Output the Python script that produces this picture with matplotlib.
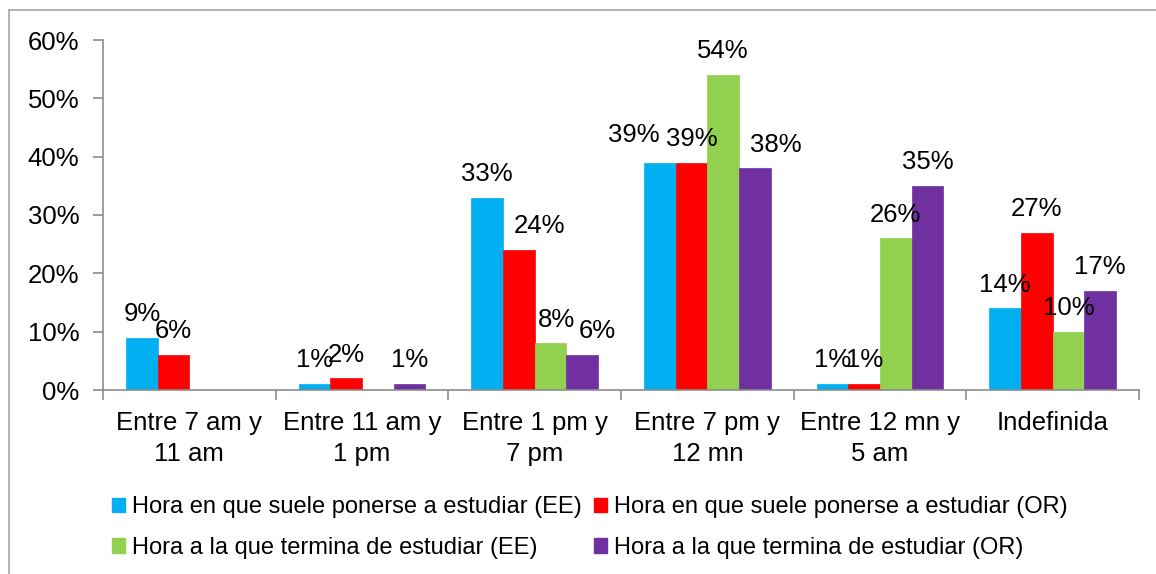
import matplotlib
matplotlib.use("Agg")
import matplotlib.pyplot as plt
from matplotlib.patches import Rectangle, Patch
import numpy as np

plt.rcParams['font.family'] = ['Liberation Sans', 'DejaVu Sans']

categories = ["Entre 7 am y\n11 am", "Entre 11 am y\n1 pm", "Entre 1 pm y\n7 pm",
              "Entre 7 pm y\n12 mn", "Entre 12 mn y\n5 am", "Indefinida"]
series_names = ["Hora en que suele ponerse a estudiar (EE)",
                "Hora en que suele ponerse a estudiar (OR)",
                "Hora a la que termina de estudiar (EE)",
                "Hora a la que termina de estudiar (OR)"]
ee_start = [9, 1, 33, 39, 1, 14]
or_start = [6, 2, 24, 39, 1, 27]
ee_end = [0, 0, 8, 54, 26, 10]
or_end = [0, 1, 6, 38, 35, 17]
colors = ["#00B0F0", "#FF0000", "#92D050", "#7030A0"]
yticks = [0, 10, 20, 30, 40, 50, 60]

# manual label nudges (series index, category index) -> (dx, dy) in points
label_nudge = {(1, 2): (15, 0), (2, 2): (4, 0), (3, 2): (11, 0),
               (0, 3): (-19, 3), (3, 3): (15, 0)}

W, H = 1156, 574
fig = plt.figure(figsize=(W / 100, H / 100), dpi=100)
ax = fig.add_axes([103 / W, 1 - 390 / H, (1139 - 103) / W, (390 - 40) / H])

fig.patches.append(Rectangle((9 / W, -0.1), 1.2, 1 - 10 / H + 0.1, transform=fig.transFigure,
                             fill=False, edgecolor="#a6a6a6", linewidth=1.2))

all_series = [ee_start, or_start, ee_end, or_end]
n = len(categories)
x = np.arange(n)
bw = 0.183
gray = "#8c8c8c"
handles = []
for i, (vals, c) in enumerate(zip(all_series, colors)):
    pos = x + (i - 1.5) * bw
    ax.bar(pos, vals, width=bw, color=c, edgecolor=c, linewidth=0.5, zorder=2)
    handles.append(Patch(facecolor=c, edgecolor=c))
    for j, (p, v) in enumerate(zip(pos, vals)):
        if v > 0:
            dx, dy = label_nudge.get((i, j), (0, 0))
            ax.annotate(f"{v}%", (p, v), xytext=(dx, 8.5 + dy), textcoords="offset points",
                        ha="center", va="bottom", fontsize=18.5, color="black", zorder=3)

ax.set_xlim(-0.5, n - 0.5)
ax.set_ylim(0, 60)
ax.set_yticks(yticks)
ax.set_yticklabels([f"{t}%" for t in yticks], fontsize=18.5)
ax.set_xticks(x)
ax.set_xticklabels(categories, fontsize=18.5, linespacing=1.4)
ax.tick_params(axis='x', length=0, pad=15)
ax.set_xticks(np.arange(-0.5, n, 1.0), minor=True)
ax.tick_params(axis='x', which='minor', length=7, color=gray, width=1.2)
ax.tick_params(axis='y', length=7, color=gray, width=1.2, pad=10)
for s in ["top", "right"]:
    ax.spines[s].set_visible(False)
for s in ["left", "bottom"]:
    ax.spines[s].set_color(gray)
    ax.spines[s].set_linewidth(1.2)

order = [0, 2, 1, 3]
fig.legend([handles[i] for i in order], [series_names[i] for i in order],
           ncol=2, loc="upper left", bbox_to_anchor=(112 / W, 1 - 496 / H),
           frameon=False, fontsize=17, handlelength=0.55, handleheight=0.55,
           handletextpad=0.3, columnspacing=0.5, labelspacing=0.8,
           borderaxespad=0, borderpad=0)

fig.savefig("out.png", dpi=100)
